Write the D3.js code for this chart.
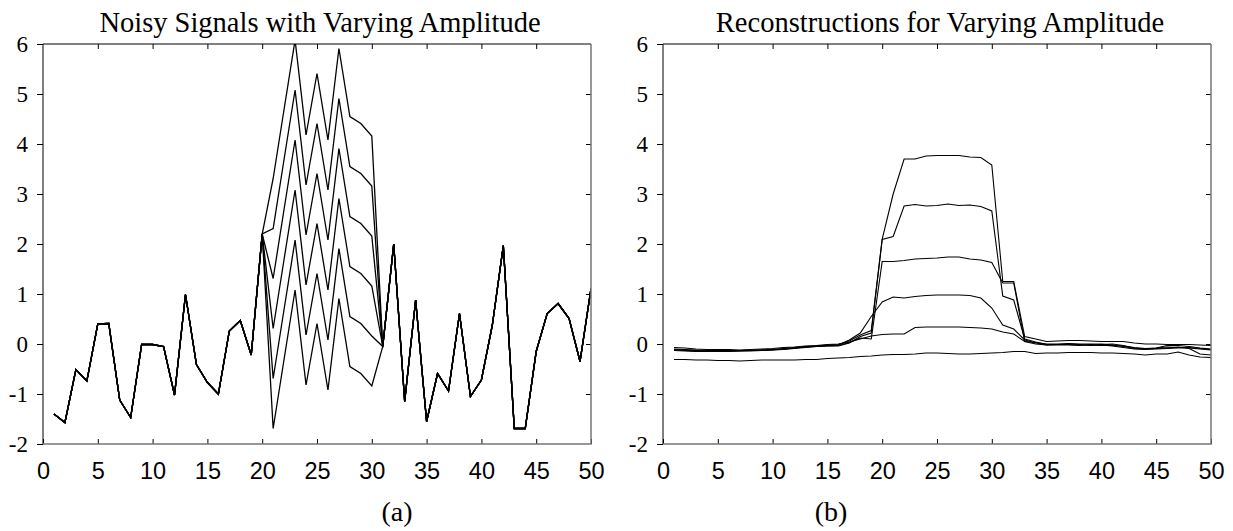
<!DOCTYPE html>
<html>
<head>
<meta charset="utf-8">
<script src="https://cdn.jsdelivr.net/npm/d3@7"></script>
<style>
body { margin: 0; background: #fff; }
.line { fill: none; stroke: #000; stroke-width: 1; stroke-linejoin: miter; }
.tick line { stroke: #000; }
</style>
</head>
<body>
<svg id="fig"></svg>
<script>
// sample index
const sampleIdx = d3.range(1, 51);

// (a) noise shared by every signal, pulse where the amplitude is added
const noisyBase = [-1.4, -1.57, -0.51, -0.74, 0.4, 0.41, -1.12, -1.47, -0.01, -0.01,
  -0.05, -1.02, 0.99, -0.41, -0.77, -1.0, 0.26, 0.47, -0.22, 2.2,
  -1.69, -0.3, 1.08, -0.82, 0.41, -0.92, 0.91, -0.45, -0.59, -0.84,
  -0.05, 2.0, -1.15, 0.88, -1.55, -0.59, -0.94, 0.61, -1.05, -0.72,
  0.38, 1.97, -1.69, -1.69, -0.15, 0.61, 0.81, 0.51, -0.35, 1.11];
const pulseShape = [0, 0, 0, 0, 0, 0, 0, 0, 0, 0,
  0, 0, 0, 0, 0, 0, 0, 0, 0, 0,
  1, 1, 1, 1, 1, 1, 1, 1, 1, 1,
  0, 0, 0, 0, 0, 0, 0, 0, 0, 0,
  0, 0, 0, 0, 0, 0, 0, 0, 0, 0];
const amplitudes = [0, 1, 2, 3, 4, 5];

// (b) reconstructions
const recon0 = [-0.31, -0.31, -0.32, -0.32, -0.33, -0.33, -0.34, -0.33, -0.32, -0.32,
  -0.32, -0.32, -0.31, -0.31, -0.29, -0.28, -0.27, -0.25, -0.24, -0.22,
  -0.21, -0.21, -0.2, -0.18, -0.18, -0.19, -0.2, -0.2, -0.19, -0.18,
  -0.17, -0.15, -0.15, -0.19, -0.18, -0.18, -0.17, -0.17, -0.17, -0.18,
  -0.18, -0.19, -0.2, -0.22, -0.2, -0.2, -0.16, -0.22, -0.26, -0.27];
const recon1 = [-0.07, -0.08, -0.1, -0.11, -0.11, -0.11, -0.12, -0.11, -0.1, -0.09,
  -0.07, -0.06, -0.04, -0.03, -0.01, 0.0, 0.04, 0.1, 0.16, 0.19,
  0.2, 0.2, 0.33, 0.34, 0.34, 0.34, 0.34, 0.33, 0.32, 0.3,
  0.24, 0.2, 0.05, 0.03, 0.0, 0.0, 0.01, 0.0, 0.0, -0.01,
  0.0, -0.03, -0.08, -0.1, -0.08, -0.03, -0.03, -0.05, -0.08, -0.1];
const recon2 = [-0.1, -0.11, -0.12, -0.13, -0.13, -0.13, -0.13, -0.12, -0.12, -0.11,
  -0.09, -0.07, -0.05, -0.04, -0.03, -0.02, 0.08, 0.22, 0.55, 0.84,
  0.94, 0.92, 0.95, 0.97, 0.98, 0.98, 0.98, 0.97, 0.92, 0.72,
  0.38, 0.3, 0.08, 0.02, -0.02, -0.01, -0.01, -0.02, -0.03, -0.02,
  -0.04, -0.07, -0.1, -0.11, -0.1, -0.09, -0.08, -0.08, -0.1, -0.12];
const recon3 = [-0.12, -0.13, -0.14, -0.14, -0.15, -0.14, -0.14, -0.13, -0.13, -0.12,
  -0.1, -0.08, -0.06, -0.05, -0.04, -0.03, 0.03, 0.12, 0.1, 1.65,
  1.65, 1.67, 1.7, 1.71, 1.72, 1.74, 1.74, 1.7, 1.68, 1.63,
  1.22, 1.22, 0.05, 0.0, -0.02, -0.02, -0.02, -0.03, -0.01, 0.0,
  -0.02, -0.05, -0.09, -0.1, -0.09, -0.08, -0.06, -0.09, -0.2, -0.22];
const recon4 = [-0.13, -0.14, -0.15, -0.15, -0.15, -0.15, -0.14, -0.14, -0.13, -0.12,
  -0.11, -0.09, -0.07, -0.05, -0.04, -0.04, 0.02, 0.15, 0.22, 2.09,
  2.15, 2.76, 2.79, 2.76, 2.77, 2.8, 2.77, 2.78, 2.75, 2.66,
  0.96, 0.88, 0.1, 0.04, -0.01, -0.01, 0.0, -0.01, -0.02, -0.03,
  -0.03, -0.04, -0.07, -0.09, -0.08, -0.06, -0.07, -0.07, -0.09, -0.11];
const recon5 = [-0.11, -0.12, -0.13, -0.14, -0.14, -0.14, -0.13, -0.13, -0.12, -0.11,
  -0.1, -0.08, -0.06, -0.04, -0.02, -0.01, 0.06, 0.18, 0.27, 2.1,
  3.0, 3.7, 3.7, 3.76, 3.77, 3.77, 3.77, 3.74, 3.73, 3.58,
  1.25, 1.25, 0.15, 0.1, 0.05, 0.06, 0.07, 0.07, 0.06, 0.05,
  0.05, 0.05, 0.02, 0.0, 0.0, -0.01, -0.01, -0.01, -0.02, -0.03];

// ticks
const xTicks = [0, 5, 10, 15, 20, 25, 30, 35, 40, 45, 50];
const yTicks = [-2, -1, 0, 1, 2, 3, 4, 5, 6];

const titles = ["Noisy Signals with Varying Amplitude", "Reconstructions for Varying Amplitude"];
const captions = ["(a)", "(b)"];

var W = 1233, H = 531;
var svg = d3.select('#fig').attr('width', W).attr('height', H);

var noisySignals = amplitudes.map(a => noisyBase.map((v, i) => v + a * pulseShape[i]));
var reconSignals = [recon0, recon1, recon2, recon3, recon4, recon5];

// plot box, same for both panels
var plotTop = 44, plotBottom = 444;
var serif = '"Liberation Serif", "Times New Roman", serif';

function panel(x0, x1, title, cap, capX, series, id, lw) {
    var x = d3.scaleLinear().domain([0, 50]).range([x0, x1]);
    var y = d3.scaleLinear().domain([-2, 6]).range([plotBottom, plotTop]);

    svg.append('clipPath').attr('id', id)
        .append('rect')
        .attr('x', x0).attr('y', plotTop)
        .attr('width', x1 - x0).attr('height', plotBottom - plotTop);

    var line = d3.line()
        .x((d, i) => x(sampleIdx[i]))
        .y(d => y(d));

    svg.append('g')
        .attr('clip-path', `url(#${id})`)
        .selectAll('path')
        .data(series)
        .enter()
        .append('path')
        .attr('class', 'line')
        .style('stroke-width', lw)
        .attr('d', line);

    // axes (left ticks point out, the others in)
    var ax = svg.append('g');
    ax.append('g')
        .attr('transform', `translate(${x0},0)`)
        .call(d3.axisLeft(y).tickValues(yTicks).tickFormat(d => String(d)).tickSize(6).tickPadding(9))
        .call(g => g.select('.domain').remove())
        .selectAll('text')
        .style('font-family', serif)
        .style('font-size', '23px')
        .attr('dy', '0.34em')
        .attr('fill', '#000');

    ax.append('g')
        .attr('transform', `translate(${x1},0)`)
        .call(d3.axisRight(y).tickValues(yTicks.slice(1, -1)).tickFormat('').tickSize(-5))
        .call(g => g.select('.domain').remove());

    ax.append('g')
        .attr('transform', `translate(0,${plotBottom})`)
        .call(d3.axisBottom(x).tickValues(xTicks).tickFormat(d => String(d)).tickSize(-5))
        .call(g => g.select('.domain').remove())
        .selectAll('text')
        .style('font-family', '"Liberation Sans", Arial, sans-serif')
        .style('font-size', '23.5px')
        .attr('y', 35)
        .attr('dy', 0)
        .attr('fill', '#000');

    ax.append('g')
        .attr('transform', `translate(0,${plotTop})`)
        .call(d3.axisTop(x).tickValues(xTicks.slice(1, -1)).tickFormat('').tickSize(-5))
        .call(g => g.select('.domain').remove());

    // box
    ax.append('path')
        .attr('d', `M ${x0} ${plotBottom} V ${plotTop} H ${x1}`)
        .attr('fill', 'none').attr('stroke', '#000').attr('stroke-width', 1);
    ax.append('path')
        .attr('d', `M ${x1} ${plotTop} V ${plotBottom} H ${x0}`)
        .attr('fill', 'none').attr('stroke', '#777').attr('stroke-width', 1.5);

    svg.append('text')
        .attr('x', (x0 + x1) / 2 + 3)
        .attr('y', 32)
        .attr('text-anchor', 'middle')
        .style('font-family', serif)
        .style('font-size', '28.5px')
        .text(title);

    svg.append('text')
        .attr('x', capX)
        .attr('y', 521)
        .attr('text-anchor', 'middle')
        .style('font-family', serif)
        .style('font-size', '28px')
        .text(cap);
}

panel(43, 591, titles[0], captions[0], 397, noisySignals, 'clipA', 1.3);
panel(663, 1211, titles[1], captions[1], 831, reconSignals, 'clipB', 1.1);
</script>
</body>
</html>
